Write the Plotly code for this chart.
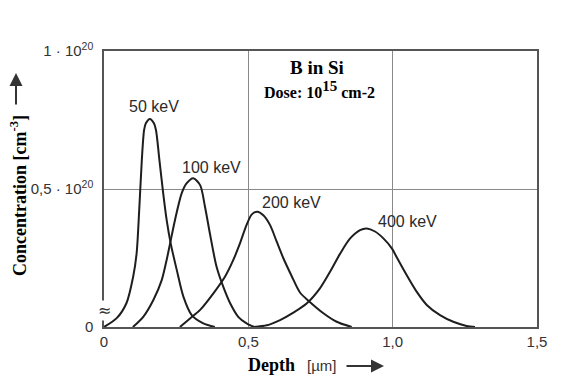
import plotly.graph_objects as go

# ---- data (depth in µm, concentration in units of 1e20 cm^-3) ----
x50 = [0.000, 0.044, 0.078, 0.101, 0.113, 0.122, 0.131, 0.139, 0.145, 0.159, 0.173, 0.180, 0.192, 0.205, 0.217, 0.231, 0.252, 0.275, 0.304, 0.344, 0.384]
y50 = [0.000, 0.032, 0.087, 0.182, 0.267, 0.424, 0.605, 0.714, 0.738, 0.754, 0.738, 0.714, 0.605, 0.485, 0.388, 0.303, 0.207, 0.110, 0.043, 0.013, 0.000]

x100 = [0.100, 0.136, 0.171, 0.200, 0.217, 0.229, 0.246, 0.269, 0.286, 0.309, 0.333, 0.350, 0.367, 0.390, 0.413, 0.437, 0.465, 0.494, 0.520]
y100 = [0.000, 0.037, 0.098, 0.170, 0.243, 0.303, 0.388, 0.484, 0.520, 0.539, 0.514, 0.435, 0.338, 0.218, 0.146, 0.086, 0.037, 0.013, 0.000]

x200 = [0.263, 0.298, 0.333, 0.379, 0.419, 0.448, 0.471, 0.494, 0.512, 0.531, 0.552, 0.575, 0.598, 0.621, 0.650, 0.679, 0.714, 0.760, 0.806, 0.858]
y200 = [0.000, 0.031, 0.062, 0.122, 0.182, 0.243, 0.303, 0.370, 0.408, 0.418, 0.405, 0.370, 0.310, 0.250, 0.185, 0.125, 0.090, 0.050, 0.019, 0.000]

x400 = [0.516, 0.564, 0.610, 0.656, 0.702, 0.748, 0.783, 0.817, 0.852, 0.887, 0.910, 0.939, 0.967, 0.997, 1.016, 1.048, 1.083, 1.118, 1.164, 1.210, 1.256, 1.285]
y400 = [0.000, 0.006, 0.025, 0.052, 0.085, 0.140, 0.200, 0.264, 0.320, 0.351, 0.357, 0.346, 0.322, 0.285, 0.249, 0.189, 0.128, 0.080, 0.043, 0.019, 0.004, 0.000]

series_labels = ["50 keV", "100 keV", "200 keV", "400 keV"]
x_tickvals = [0, 0.5, 1.0, 1.5]
x_ticktext = ["0", "0,5", "1,0", "1,5"]
y_tickvals = [0, 0.5, 1.0]
y_ticktext = ["0", "0,5 · 10<sup>20</sup>", "1 · 10<sup>20</sup>"]

# ---- figure (page has an 8px body margin, so the figure is offset) ----
OFF = 8
PL, PT, PR, PB = 104, 51, 537, 327   # plot area in page pixels
pw, ph = PR - PL, PB - PT
W, H = 572 - OFF, 389 - OFF
L, T = PL - OFF, PT - OFF
R = W - L - pw
B = H - T - ph

def px(x):
    return (x - PL) / pw

def py(y):
    return (PB - y) / ph

SANS = "Liberation Sans"
SERIF = "Liberation Serif"
INK = "#1e1e1e"

fig = go.Figure()
for xs, ys in [(x50, y50), (x100, y100), (x200, y200), (x400, y400)]:
    fig.add_trace(go.Scatter(x=xs, y=ys, mode="lines", line=dict(color=INK, width=2, shape="spline", smoothing=0.8),
                             showlegend=False, hoverinfo="skip"))

label_pos = [(154, 106), (211, 167), (291, 202), (407, 221)]
for text, (lx, ly) in zip(series_labels, label_pos):
    fig.add_annotation(x=px(lx), y=py(ly), xref="paper", yref="paper", text=text, showarrow=False,
                       font=dict(family=SANS, size=16, color="#2a2a2a"), xanchor="center", yanchor="middle")

fig.add_annotation(x=px(317), y=py(67), xref="paper", yref="paper", text="<b>B in Si</b>", showarrow=False,
                   font=dict(family=SERIF, size=19, color="#000"), xanchor="center", yanchor="middle")
fig.add_annotation(x=px(262), y=py(90), xref="paper", yref="paper",
                   text="<b>Dose: 10<sup><span style='font-size:15px'>15</span></sup> cm-2</b>", showarrow=False,
                   font=dict(family=SERIF, size=16, color="#000"), xanchor="left", yanchor="middle")

# axis-break mark
fig.add_annotation(x=px(104), y=py(310), xref="paper", yref="paper", text="≈", showarrow=False,
                   font=dict(family="DejaVu Sans", size=16, color="#333"), xanchor="center", yanchor="middle",
                   bgcolor="white", borderpad=0)

# y title + arrow
fig.add_annotation(x=px(18), y=py(196), xref="paper", yref="paper",
                   text="<b>Concentration [cm<sup>-3</sup>]</b>", textangle=-90, showarrow=False,
                   font=dict(family=SERIF, size=18, color="#000"), xanchor="center", yanchor="middle")
fig.add_annotation(x=px(16), y=py(73), xref="paper", yref="paper", text="", showarrow=True,
                   ax=0, ay=33, arrowhead=2, arrowsize=1.3, arrowwidth=2, arrowcolor="#333")

# x title + arrow
fig.add_annotation(x=px(246), y=py(365), xref="paper", yref="paper", text="<b>Depth</b>", showarrow=False,
                   font=dict(family=SERIF, size=18, color="#000"), xanchor="left", yanchor="middle")
fig.add_annotation(x=px(305), y=py(365), xref="paper", yref="paper", text="[µm]", showarrow=False,
                   font=dict(family=SANS, size=15, color="#333"), xanchor="left", yanchor="middle")
fig.add_annotation(x=px(384), y=py(366), xref="paper", yref="paper", text="", showarrow=True,
                   ax=-39, ay=0, arrowhead=2, arrowsize=1.3, arrowwidth=2, arrowcolor="#333")

fig.update_xaxes(range=[0, 1.5], tickvals=x_tickvals, ticktext=x_ticktext, showgrid=True,
                 gridcolor="#8a8a8a", gridwidth=1, zeroline=False, showline=True, linecolor="#555",
                 linewidth=1.5, mirror=True, ticks="", ticklabelstandoff=0,
                 tickfont=dict(family=SANS, size=15, color="#333"))
fig.update_yaxes(range=[0, 1.0], tickvals=y_tickvals, ticktext=y_ticktext, showgrid=True,
                 gridcolor="#8a8a8a", gridwidth=1, zeroline=False, showline=True, linecolor="#555",
                 linewidth=1.5, mirror=True, ticks="", ticklabelstandoff=6,
                 tickfont=dict(family=SANS, size=15, color="#333"))

fig.update_layout(width=W, height=H, margin=dict(l=L, r=R, t=T, b=B), plot_bgcolor="white",
                  paper_bgcolor="white")

fig.write_html("out.html")
